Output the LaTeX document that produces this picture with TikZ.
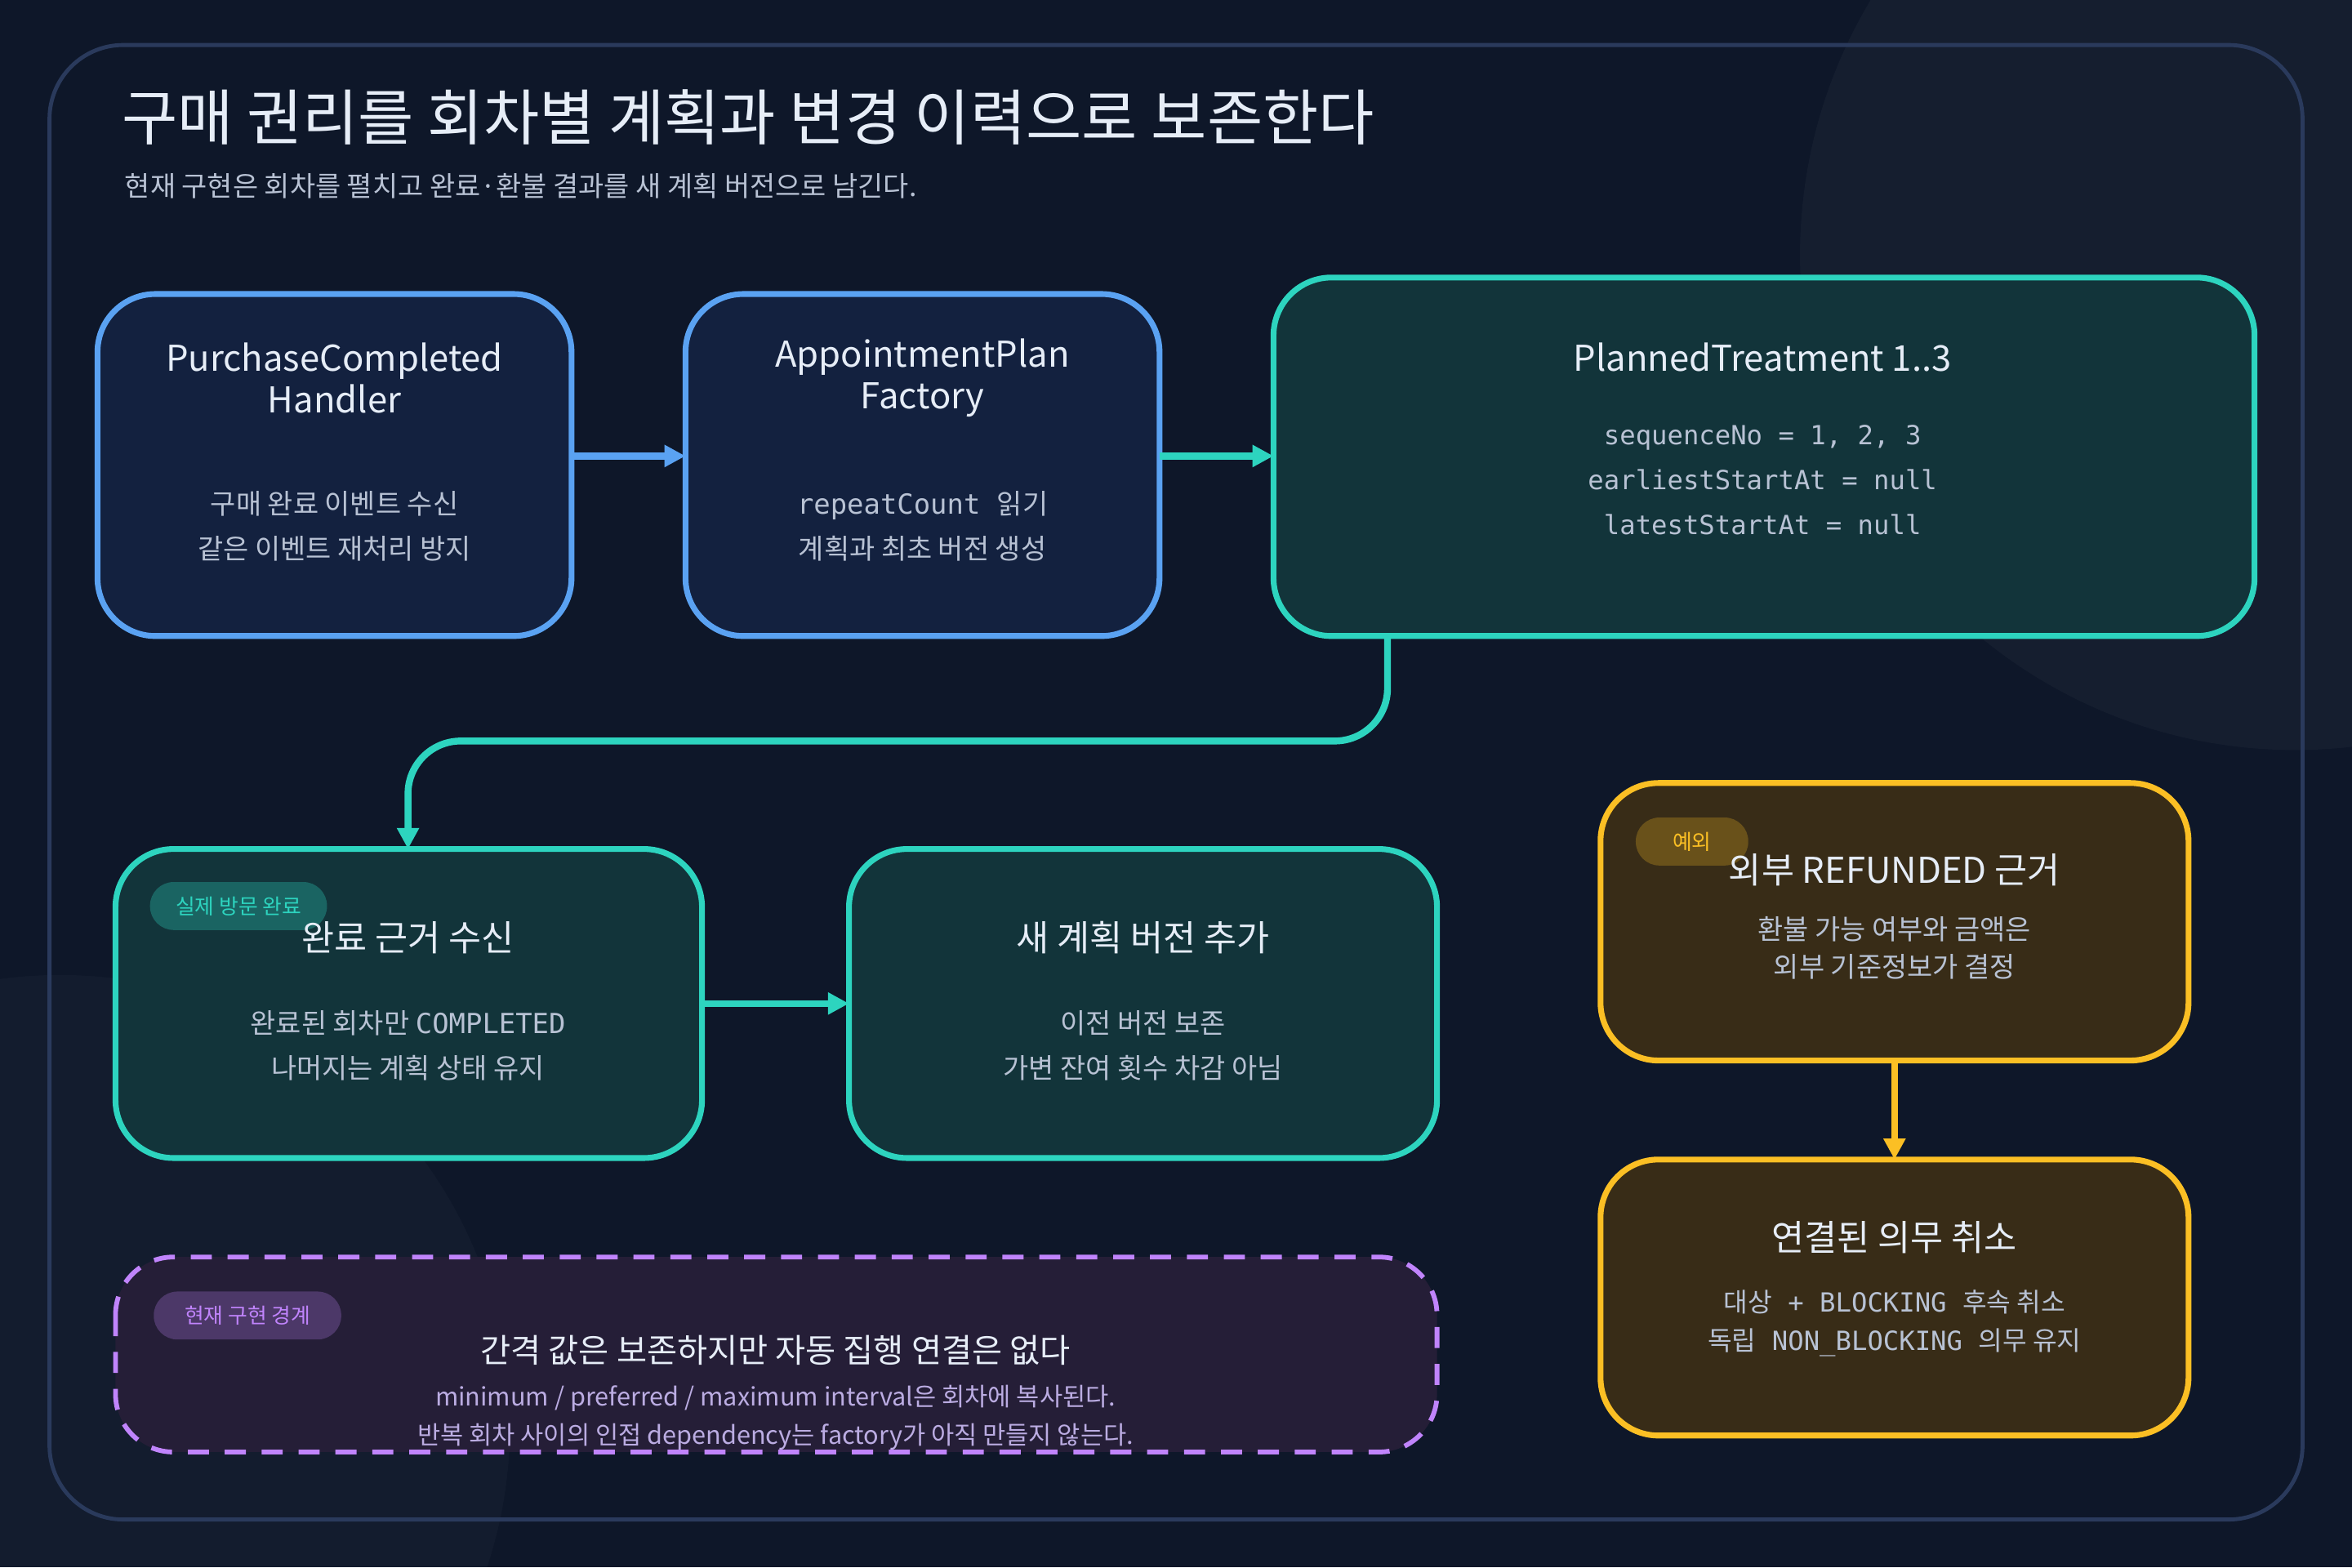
\documentclass[tikz,border=0pt]{standalone}
\usepackage{fontspec}
\setmainfont{Noto Sans CJK KR}
\setmonofont{DejaVu Sans Mono}
\newfontfamily\kr{Noto Sans CJK KR}
\usetikzlibrary{arrows.meta}
\definecolor{bg}{HTML}{0E1729}
\definecolor{frame}{HTML}{2A3A5C}
\definecolor{bfill}{HTML}{13213F}
\definecolor{bline}{HTML}{5AA2F2}
\definecolor{tfill}{HTML}{12343A}
\definecolor{tline}{HTML}{2DD4BF}
\definecolor{yfill}{HTML}{382C17}
\definecolor{yline}{HTML}{FBBF24}
\definecolor{pfill}{HTML}{251E37}
\definecolor{pline}{HTML}{C084FC}
\definecolor{txt}{HTML}{E6EDF7}
\definecolor{sub}{HTML}{B8C2D4}
\begin{document}
\begin{tikzpicture}[x=0.02cm,y=-0.02cm,
  box/.style={draw, line width=2.2pt, rounded corners=22pt},
  ttl/.style={text=txt, font=\fontsize{13.5}{16}\selectfont, align=center},
  bod/.style={text=sub, font=\fontsize{10.5}{17}\selectfont, align=center},
  mono/.style={text=sub, font=\ttfamily\fontsize{10}{17}\selectfont, align=center},
  badge/.style={rounded corners=9pt, font=\fontsize{8}{10}\selectfont, inner sep=0pt},
  arr/.style={line width=2.6pt, -{Triangle[length=8pt,width=8pt]}}]
\useasboundingbox (0,0) rectangle (1568,1045);
\fill[bg] (0,0) rectangle (1568,1045);
\begin{scope}
\clip (0,0) rectangle (1568,1045);
\fill[white,opacity=0.03] (1530,170) circle[radius=330];
\fill[white,opacity=0.025] (40,950) circle[radius=300];
\end{scope}
\draw[frame, line width=1.5pt, rounded corners=28pt] (33,30) rectangle (1535,1013);
\node[anchor=west, text=txt, font=\fontsize{23}{26}\selectfont] (title) at (75,78) {구매 권리를 회차별 계획과 변경 이력으로 보존한다};
\node[anchor=west, text=sub, font=\fontsize{10.5}{13}\selectfont] (subt) at (77,124) {현재 구현은 회차를 펼치고 완료·환불 결과를 새 계획 버전으로 남긴다.};
% boxes
\draw[box, bline, fill=bfill] (65,196) rectangle (381,424);
\node[ttl] (t1) at (223,252) {PurchaseCompleted\\Handler};
\node[bod] (l1) at (223,351) {구매 완료 이벤트 수신\\같은 이벤트 재처리 방지};
\draw[box, bline, fill=bfill] (457,196) rectangle (773,424);
\node[ttl] (t2) at (615,252) {AppointmentPlan\\Factory};
\node[bod] (l2) at (615,351) {\ttfamily repeatCount {\kr 읽기}\\계획과 최초 버전 생성};
\draw[box, tline, fill=tfill] (849,185) rectangle (1503,424);
\node[ttl] (t3) at (1175,238) {PlannedTreatment 1..3};
\node[mono] (l3) at (1175,320) {sequenceNo = 1, 2, 3\\earliestStartAt = null\\latestStartAt = null};
\draw[box, tline, fill=tfill] (77,566) rectangle (468,772);
\node[badge, fill=tline!30!tfill, text=tline, minimum width=118*0.02cm, minimum height=32*0.02cm] (bd4) at (159,604) {실제 방문 완료};
\node[ttl] (t4) at (272,625) {완료 근거 수신};
\node[bod] (l4) at (272,697) {완료된 회차만 {\ttfamily COMPLETED}\\나머지는 계획 상태 유지};
\draw[box, tline, fill=tfill] (566,566) rectangle (958,772);
\node[ttl] (t5) at (762,625) {새 계획 버전 추가};
\node[bod] (l5) at (762,697) {이전 버전 보존\\가변 잔여 횟수 차감 아님};
\draw[box, yline, fill=yfill] (1067,522) rectangle (1459,707);
\node[badge, fill=yline!25!yfill, text=yline, minimum width=75*0.02cm, minimum height=32*0.02cm] (bd6) at (1128,561) {예외};
\node[ttl] (t6) at (1263,580) {외부 REFUNDED 근거};
\node[bod, font=\fontsize{10.5}{14.5}\selectfont] (l6) at (1263,632) {환불 가능 여부와 금액은\\외부 기준정보가 결정};
\draw[box, yline, fill=yfill] (1067,773) rectangle (1459,957);
\node[ttl] (t7) at (1263,825) {연결된 의무 취소};
\node[mono, font=\ttfamily\fontsize{10}{14.5}\selectfont] (l7) at (1263,882) {{\kr 대상} + BLOCKING {\kr 후속 취소}\\{\kr 독립} NON\_BLOCKING {\kr 의무 유지}};
\draw[box, pline, fill=pfill, dashed, dash pattern=on 8pt off 6pt, line width=1.8pt] (77,838) rectangle (958,968);
\node[badge, fill=pline!25!pfill, text=pline, minimum width=125*0.02cm, minimum height=32*0.02cm] (bd8) at (165,877) {현재 구현 경계};
\node[ttl, font=\fontsize{12.5}{15}\selectfont] (t8) at (517,900) {간격 값은 보존하지만 자동 집행 연결은 없다};
\node[bod, text=pline!35!sub, font=\fontsize{9.5}{14.5}\selectfont] (l8) at (517,945) {minimum / preferred / maximum interval은 회차에 복사된다.\\반복 회차 사이의 인접 dependency는 factory가 아직 만들지 않는다.};
% connectors
\coordinate (a1s) at (381,304); \coordinate (a1e) at (457,304);
\coordinate (a2s) at (773,304); \coordinate (a2e) at (849,304);
\coordinate (a3s) at (925,424); \coordinate (a3e) at (272,566);
\coordinate (a4s) at (468,669); \coordinate (a4e) at (566,669);
\coordinate (a5s) at (1263,707); \coordinate (a5e) at (1263,773);
\draw[arr, bline] (a1s) -- (a1e);
\draw[arr, tline] (a2s) -- (a2e);
\draw[arr, tline, rounded corners=20pt] (a3s) -- (925,494) -- (272,494) -- (a3e);
\draw[arr, tline] (a4s) -- (a4e);
\draw[arr, yline] (a5s) -- (a5e);
\end{tikzpicture}
\end{document}
